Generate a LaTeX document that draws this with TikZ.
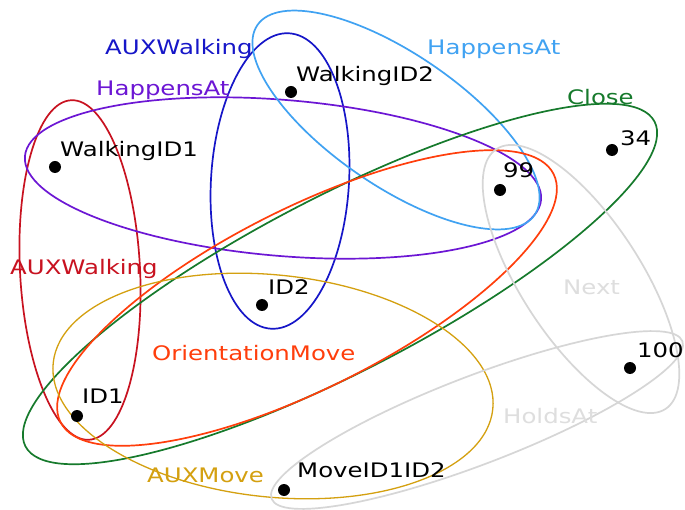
\documentclass[tikz,border=0pt]{standalone}
\usepackage{fontspec}
\setmainfont[FakeStretch=1.22]{DejaVu Sans}
\definecolor{cRed}{RGB}{200,18,32}
\definecolor{cPurple}{RGB}{108,22,212}
\definecolor{cBlue}{RGB}{22,22,200}
\definecolor{cSky}{RGB}{64,162,242}
\definecolor{cGreen}{RGB}{22,122,44}
\definecolor{cOrange}{RGB}{255,62,12}
\definecolor{cGold}{RGB}{212,160,16}
\definecolor{cGray}{RGB}{214,214,214}
\definecolor{cGrayText}{RGB}{222,222,222}
\tikzset{
  hedge/.style={line width=1.7pt},
  dot/.style={circle, fill=black, inner sep=0pt, minimum size=12pt},
  lbl/.style={anchor=base west, inner sep=0pt, font=\fontsize{20}{24}\selectfont}
}
\begin{document}
\begin{tikzpicture}[x=1pt,y=-1pt]
\useasboundingbox (0,0) rectangle (685,510);
\fill[white] (0,0) rectangle (685,510);

% hyperedges
\draw[hedge, cRed, rotate around={3:(80,270)}] (80,270) ellipse [x radius=60, y radius=170];
\draw[hedge, cBlue, rotate around={-3.5:(280,181)}] (280,181) ellipse [x radius=69, y radius=148];
\draw[hedge, cPurple, rotate around={-4.8:(283,178)}] (283,178) ellipse [x radius=259, y radius=78];
\draw[hedge, cSky, rotate around={-34.4:(396,120)}] (396,120) ellipse [x radius=168, y radius=66];
\draw[hedge, cGreen, rotate around={27.3:(340,284)}] (340,284) ellipse [x radius=354, y radius=88];
\draw[hedge, cOrange, rotate around={26.7:(307,298)}] (307,298) ellipse [x radius=276, y radius=90];
\draw[hedge, cGold, line width=1.3pt, rotate around={-6:(273,386)}] (273,386) ellipse [x radius=221, y radius=111];
\draw[hedge, cGray, rotate around={-57:(581,279)}] (581,279) ellipse [x radius=155, y radius=60];
\draw[hedge, cGray, rotate around={21:(477,420)}] (477,420) ellipse [x radius=220, y radius=44];

% hyperedge labels
\node[lbl, text=cBlue] (lAuxWalkB) at (105,55) {AUXWalking};
\node[lbl, text=cPurple] (lHapP) at (96,96) {HappensAt};
\node[lbl, text=cSky] (lHapS) at (427,55) {HappensAt};
\node[lbl, text=cGreen] (lClose) at (567,105) {Close};
\node[lbl, text=cRed] (lAuxWalkR) at (10,275) {AUXWalking};
\node[lbl, text=cOrange] (lOrient) at (152,360) {OrientationMove};
\node[lbl, text=cGold] (lAuxMove) at (147,482) {AUXMove};
\node[lbl, text=cGrayText] (lNext) at (563,295) {Next};
\node[lbl, text=cGrayText] (lHolds) at (503,423) {HoldsAt};

% vertices
\node[dot] (walkingid1) at (55,167) {};
\node[dot] (walkingid2) at (291,92) {};
\node[dot] (v99) at (500,190) {};
\node[dot] (v34) at (612,150) {};
\node[dot] (id2) at (262,305) {};
\node[dot] (id1) at (77,416) {};
\node[dot] (v100) at (630,368) {};
\node[dot] (moveid) at (284,490) {};

% vertex labels
\node[lbl] (tWalk1) at (60,157) {WalkingID1};
\node[lbl] (tWalk2) at (296,82) {WalkingID2};
\node[lbl] (t99) at (503,178) {99};
\node[lbl] (t34) at (620,146) {34};
\node[lbl] (tId2) at (268,295) {ID2};
\node[lbl] (tId1) at (82,403) {ID1};
\node[lbl] (t100) at (637,358) {100};
\node[lbl] (tMove) at (297,477) {MoveID1ID2};
\end{tikzpicture}
\end{document}
